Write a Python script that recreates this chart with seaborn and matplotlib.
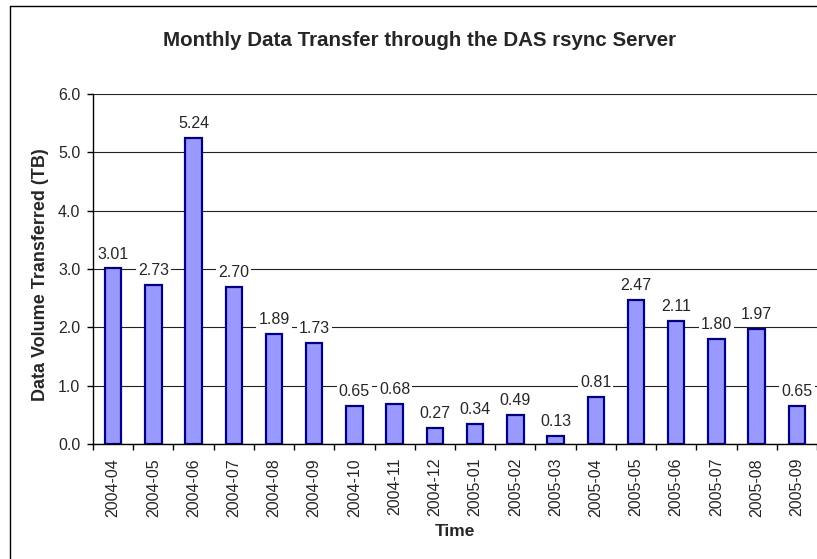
import numpy as np
import pandas as pd
import seaborn as sns
import matplotlib.pyplot as plt
from matplotlib.lines import Line2D
from matplotlib.ticker import FixedLocator

months = ['2004-04', '2004-05', '2004-06', '2004-07', '2004-08', '2004-09',
          '2004-10', '2004-11', '2004-12', '2005-01', '2005-02', '2005-03',
          '2005-04', '2005-05', '2005-06', '2005-07', '2005-08', '2005-09']
volume_tb = [3.01, 2.73, 5.24, 2.70, 1.89, 1.73, 0.65, 0.68, 0.27, 0.34,
             0.49, 0.13, 0.81, 2.47, 2.11, 1.80, 1.97, 0.65]

df = pd.DataFrame({'Time': months, 'Volume': volume_tb})

sns.set_style('white')
plt.rcParams['font.family'] = ['Liberation Sans', 'DejaVu Sans']

fig = plt.figure(figsize=(8.17, 5.59), dpi=100)
ax = fig.add_axes([0.1138, 0.2057, 0.8862, 0.626])

sns.barplot(x='Time', y='Volume', data=df, ax=ax, color='#9999FF',
            edgecolor='#000080', linewidth=1.6, width=0.41, saturation=1)

ax.set_ylim(0, 6.0)
ax.set_xlim(-0.5, len(months) - 0.5)
ax.set_yticks(np.arange(0, 6.1, 1.0))
ax.set_yticklabels([f'{v:.1f}' for v in np.arange(0, 6.1, 1.0)], fontsize=11.5)
ax.yaxis.grid(True, color='#222222', linewidth=0.8)
ax.set_axisbelow(True)

ax.set_xticks(range(len(months)))
ax.set_xticklabels(months, rotation=90, fontsize=11.5)
ax.xaxis.set_minor_locator(FixedLocator(np.arange(-0.5, len(months), 1.0)))
ax.tick_params(axis='x', which='major', length=0, pad=10)
ax.tick_params(axis='x', which='minor', length=4, width=1, color='black', bottom=True)
ax.tick_params(axis='y', length=4, width=1, color='black', left=True, pad=5)

for side in ['top', 'right']:
    ax.spines[side].set_visible(False)
for side in ['left', 'bottom']:
    ax.spines[side].set_color('black')
    ax.spines[side].set_linewidth(1)

ax.bar_label(ax.containers[0], labels=[f'{v:.2f}' for v in volume_tb],
             padding=5, fontsize=11.5,
             bbox=dict(facecolor='white', edgecolor='none', pad=1.5))

ax.set_xlabel('Time', fontsize=12.5, fontweight='bold', labelpad=5)
ax.set_ylabel('Data Volume Transferred (TB)', fontsize=13, fontweight='bold', labelpad=6)
ax.yaxis.set_label_coords(-0.061, 0.485)
fig.text(0.514, 0.928, 'Monthly Data Transfer through the DAS rsync Server',
         ha='center', va='center', fontsize=14.8, fontweight='bold')

# chart frame, only its left and top edges fall inside the image
fig.lines.append(Line2D([0.0122, 0.0122], [0.0, 0.9884], transform=fig.transFigure,
                        color='black', linewidth=1))
fig.lines.append(Line2D([0.0122, 1.0], [0.9884, 0.9884], transform=fig.transFigure,
                        color='black', linewidth=1))

fig.savefig('out.png', dpi=100)
